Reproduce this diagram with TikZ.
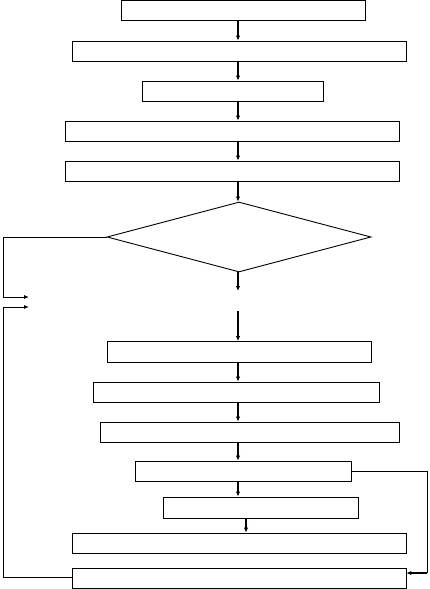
\documentclass[tikz,border=0pt]{standalone}
\usetikzlibrary{arrows.meta,shapes.geometric}
\begin{document}
\begin{tikzpicture}[x=1pt,y=-1pt,
  box/.style={draw,line width=0.9pt,inner sep=0pt,minimum height=20pt},
  arr/.style={line width=1.4pt,-{Latex[length=5pt,width=4.5pt]}},
  lnk/.style={line width=0.9pt},
  lnkarr/.style={line width=0.9pt,-{Latex[length=5pt,width=4pt]}}]
\useasboundingbox (0,0) rectangle (429,589);
\coordinate (ax) at (238,0);
\node[box,minimum width=244pt] (b1) at (243,10.5) {};
\node[box,minimum width=334pt] (b2) at (239,51) {};
\node[box,minimum width=181pt] (b3) at (232.5,91) {};
\node[box,minimum width=334pt] (b4) at (232,131) {};
\node[box,minimum width=334pt] (b5) at (232,171) {};
\node[draw,line width=0.9pt,diamond,inner sep=0pt,minimum width=264pt,minimum height=70pt] (d) at (239,237) {};
\node[box,minimum width=264pt,minimum height=21pt] (b6) at (239,352) {};
\node[box,minimum width=286pt] (b7) at (236,392) {};
\node[box,minimum width=299pt] (b8) at (249.5,432) {};
\node[box,minimum width=216pt] (b9) at (243,471) {};
\node[box,minimum width=195pt,minimum height=21pt] (b10) at (260.5,507.5) {};
\node[box,minimum width=334pt] (b11) at (239,543) {};
\node[box,minimum width=334pt] (b12) at (239,578) {};
\coordinate (e1) at (238,291);
\coordinate (s2) at (238,311);
\coordinate (ax2) at (246,0);
\draw[arr] (b1.south -| ax) -- (b2.north -| ax);
\draw[arr] (b2.south -| ax) -- (b3.north -| ax);
\draw[arr] (b3.south -| ax) -- (b4.north -| ax);
\draw[arr] (b4.south -| ax) -- (b5.north -| ax);
\draw[arr] (b5.south -| ax) -- (d.north -| ax);
\draw[arr] (d.south -| ax) -- (e1);
\draw[arr] (s2) -- (b6.north -| ax);
\draw[arr] (b6.south -| ax) -- (b7.north -| ax);
\draw[arr] (b7.south -| ax) -- (b8.north -| ax);
\draw[arr] (b8.south -| ax) -- (b9.north -| ax);
\draw[arr] (b9.south -| ax) -- (b10.north -| ax);
\draw[arr] (b10.south -| ax2) -- (b11.north -| ax2);
\coordinate (l1) at (3,237);
\coordinate (l2) at (3,297);
\coordinate (l3) at (29,297);
\draw[lnkarr] (d.west) -- (l1) -- (l2) -- (l3);
\coordinate (m1) at (3,577);
\coordinate (m2) at (3,307);
\coordinate (m3) at (29,307);
\draw[lnkarr] (b12.west |- m1) -- (m1) -- (m2) -- (m3);
\coordinate (r1) at (427,471);
\coordinate (r2) at (427,573);
\draw[lnk] (b9.east) -- (r1) -- (r2);
\draw[arr] (r2) -- (b12.east |- r2);
\end{tikzpicture}
\end{document}
